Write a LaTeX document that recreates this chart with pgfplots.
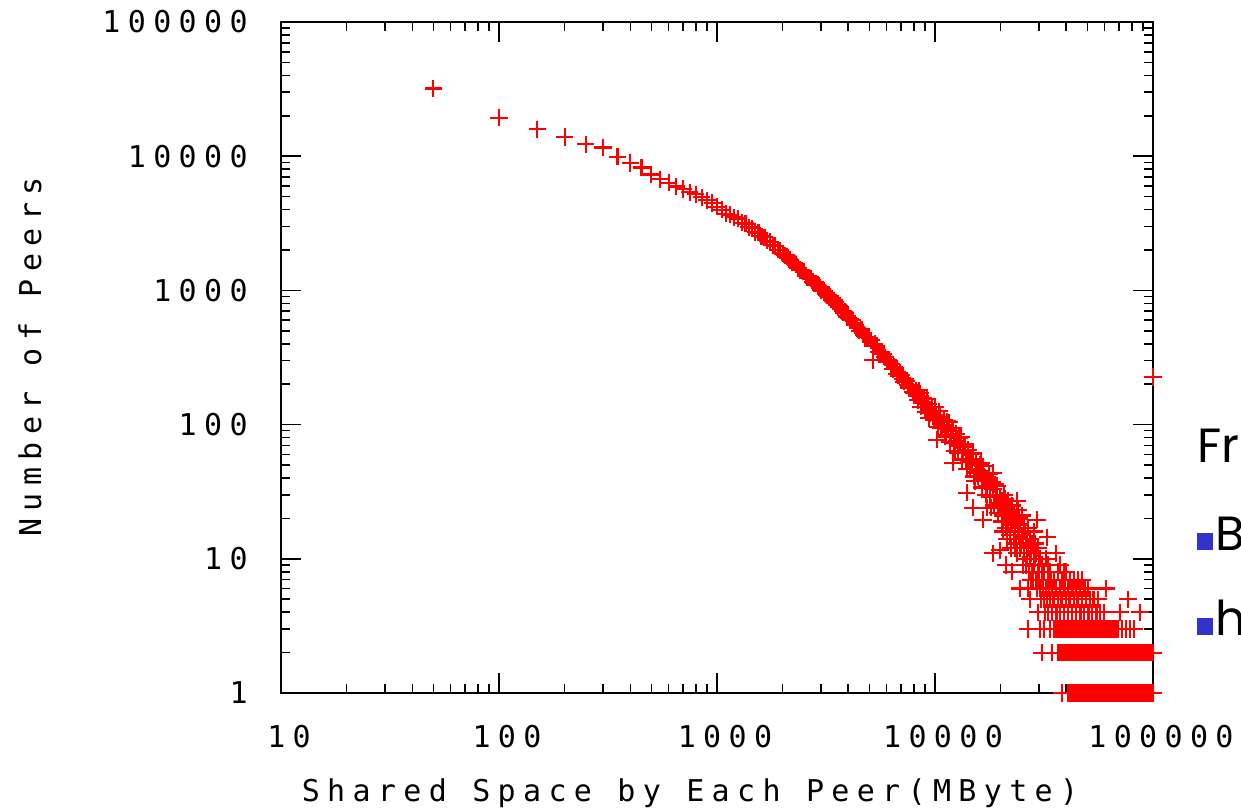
\documentclass[border=0pt]{standalone}
\usepackage{pgfplots}
\pgfplotsset{compat=1.18}
\usepackage{pgfplotstable}
\usepackage{fontspec}
\newfontfamily\gpfont{DejaVu Sans Mono}[LetterSpace=24.5]
\newfontfamily\slidefont{Poppins}
\definecolor{bulletblue}{RGB}{51,51,204}
\newcommand{\gpsize}{\gpfont\fontsize{15pt}{15pt}\selectfont}

\pgfplotstableread{
x y
50 32000
100 19300
150 15900
200 13900
250 12300
300 11600
350 9900
400 8900
450 8250
500 7300
550 6750
600 6350
650 5950
700 5700
750 5400
800 5200
850 4950
900 4700
950 4480
1000 4200
1050 3985
1100 3720
1150 3660
1200 3510
1250 3430
1300 3200
1350 3150
1400 2950
1450 2900
1500 2720
1550 2690
1600 2530
1650 2490
1700 2340
1750 2300
1800 2170
1850 2140
1900 2010
1950 1990
2000 1890
2050 1830
2100 1790
2150 1700
2200 1620
2250 1610
2300 1560
2350 1470
2400 1420
2450 1410
2500 1375
2550 1300
2600 1255
2650 1250
2700 1225
2750 1160
2800 1120
2850 1120
2900 1100
2950 1045
3000 1005
3050 1010
3100 992
3150 940
3200 912
3250 925
3300 903
3350 855
3400 830
3450 840
3500 818
3550 775
3600 752
3650 770
3700 745
3750 700
3800 684
3850 695
3900 679
3950 640
4000 625
4100 615
4200 600
4300 552
4400 522
4500 500
4600 512
4700 470
4800 447
4900 450
5000 442
5100 425
5200 386
5200 302
5300 400
5400 383
5500 346
5600 335
5700 345
5800 334
5900 318
6000 294
6100 305
6200 295
6300 281
6400 260
6500 270
6600 262
6700 238
6800 232
6900 244
7000 235
7100 220
7200 209
7300 218
7400 212
7500 198
7600 189
7700 196
7800 192
7900 175
8000 172
8183 179
8270 164
8358 152
8447 180
8536 171
8627 136
8718 145
8811 158
8905 147
8999 135
9095 125
9191 156
9289 143
9388 112
9487 122
9588 127
9690 136
9793 116
9897 108
10002 135
10108 117
10200 77
10217 109
10324 96
10434 126
10544 114
10656 95
10769 97
10883 100
10999 108
11116 81
11234 83
11354 106
11474 93
11596 104
11719 74
11843 83
11969 90
12096 94
12100 52
12225 73
12355 64
12486 85
12619 76
12752 62
12887 80
13024 70
13162 81
13302 55
13443 62
13586 68
13730 71
13876 55
14000 31
14023 47
14172 65
14322 53
14475 47
14629 53
14784 55
14930 24
14941 61
15100 41
15260 38
15422 52
15585 44
15751 41
15918 45
16087 50
16257 52
16431 34
16600 19.5
16605 49
16782 41
16960 40
17140 30
17300 24
17322 35
17506 39
17692 43
17880 29
18070 24
18261 37
18450 11
18450 43.6
18455 33
18651 25
18849 36
19049 30
19251 35
19456 22
19662 26
19871 29
19870 11.6
20082 24
20294 27
20294 19
20509 21
20509 16
20728 22
20728 30
20948 28
21170 25
21170 17
21170 9
21395 14
21395 23
21622 19
21622 27
21851 21
22084 23
22084 15
22318 12
22318 19
22556 18
22556 25
22556 8
22795 20
23037 14
23037 21
23281 17
23281 12
23529 20
23529 13
23778 11
23800 27
24032 16
24032 23
24286 15
24286 20
24545 12
24545 18
24545 6
24805 13
25069 15
25069 21
25335 9
25335 14
25604 11
25604 17
25876 16
26151 14
26151 9
26428 10
26428 13
26709 12
26709 17
26709 6
26709 3
26993 8
27279 10
27279 14
27279 5
27569 11
27569 7
27862 13
27862 8
28157 7
28457 9
28457 12
28457 16
28758 10
28758 13
29064 11
29064 7
29373 6
29400 19.5
29685 8
29685 12
29685 4
30000 9
30000 7
30319 10
30319 6
30319 3
30641 5
30966 7
30966 9
30966 2
31295 6
31627 8
31627 5
31627 3
31962 4
32303 6
32303 10
32646 5
32700 14.5
32993 7
32993 4
32993 9
33343 6
33697 5
33697 8
33697 3
34056 7
34416 6
34416 4
34416 2
34781 5
35151 7
35151 5
35151 3
35902 4
35902 6
35902 11
36283 4
36669 5
36669 8
37452 4
37452 6
37452 9
37849 5
38251 5
38251 7
39068 4
39068 6
39068 8
39482 6
39902 5
39902 8
40754 4
40754 6
41186 5
41624 5
41624 7
42513 4
42513 6
42964 6
43421 5
43421 7
44348 4
44348 6
44818 5
45295 5
45295 7
46262 4
46262 6
46752 4
47250 5
47250 7
48259 4
48259 6
48771 6
49289 5
50342 4
50342 6
50876 4
51417 5
52514 4
53071 5
53636 5
54781 4
55362 4
55951 5
57145 4
59612 4
60884 6
70588 4
76813 5
87194 4
35902 3
36669 3
37452 3
38251 3
39068 3
39902 3
40754 3
41624 3
42513 3
43421 3
44348 3
45295 3
46262 3
47250 3
48259 3
49289 3
50342 3
51417 3
52514 3
53636 3
54781 3
55951 3
57145 3
58365 3
59612 3
60884 3
62184 3
63512 3
64868 3
66253 3
67668 3
69113 3
72095 3
75207 3
78453 3
81839 3
36669 2
37452 2
38251 2
39068 2
39902 2
40754 2
41624 2
42513 2
43421 2
44348 2
45295 2
46262 2
47250 2
48259 2
49289 2
50342 2
51417 2
52514 2
53636 2
54781 2
55951 2
57145 2
58365 2
59612 2
60884 2
62184 2
63512 2
64868 2
66253 2
67668 2
69113 2
70588 2
72095 2
73635 2
75207 2
76813 2
78453 2
80128 2
81839 2
83586 2
85371 2
87194 2
89056 2
90957 2
92899 2
94883 2
96909 2
98978 2
100000 2
38251 1
40754 1
41624 1
42513 1
43421 1
44348 1
45295 1
46262 1
47250 1
48259 1
49289 1
50342 1
51417 1
52514 1
53636 1
54781 1
55951 1
57145 1
58365 1
59612 1
60884 1
62184 1
63512 1
64868 1
66253 1
67668 1
69113 1
70588 1
72095 1
73635 1
75207 1
76813 1
78453 1
80128 1
81839 1
83586 1
85371 1
87194 1
89056 1
90957 1
92899 1
94883 1
96909 1
98978 1
100000 1
100000 226
}\peers

\begin{document}
\begin{tikzpicture}
\begin{axis}[
  at={(140.5pt,59pt)}, anchor=south west,
  width=436pt, height=335.5pt, scale only axis,
  xmode=log, ymode=log,
  xmin=10, xmax=100000, ymin=1, ymax=100000,
  xtick={10,100,1000,10000,100000},
  xticklabels={10,100,1000,10000,100000},
  ytick={1,10,100,1000,10000,100000},
  yticklabels={1,10,100,1000,10000,100000},
  tick align=inside,
  major tick length=10pt, minor tick length=4.5pt,
  axis line style={line width=0.75pt, black},
  every tick/.style={line width=0.75pt, black},
  xticklabel style={font=\gpsize, anchor=center, yshift=-22pt, xshift=4pt, inner sep=0pt},
  yticklabel style={font=\gpsize, anchor=east, xshift=-16.5pt, inner sep=0pt},
  clip=false,
]
\addplot[only marks, mark=+, mark size=4.3pt, color=red,
  mark options={line width=1.1pt}] table[x=x, y=y] {\peers};
\end{axis}
\node[font=\gpsize] at (345pt, 9pt) {Shared Space by Each Peer(MByte)};
\node[font=\gpsize, rotate=90] at (15pt, 227pt) {Number of Peers};
\node[font=\slidefont\fontsize{24pt}{24pt}\selectfont, anchor=base west, inner sep=0pt] at (598.5pt,174.5pt) {Fre};
\node[font=\slidefont\fontsize{24pt}{24pt}\selectfont, anchor=base west, inner sep=0pt] at (598.5pt,130.5pt) {\textcolor{bulletblue}{\rule{8pt}{8.5pt}}\kern1pt B};
\node[font=\slidefont\fontsize{24pt}{24pt}\selectfont, anchor=base west, inner sep=0pt] at (598.5pt,88pt) {\textcolor{bulletblue}{\rule{8pt}{8.5pt}}\kern1pt h};
\pgfresetboundingbox
\useasboundingbox (0,0) rectangle (620.5pt,405.5pt);
\end{tikzpicture}
\end{document}
